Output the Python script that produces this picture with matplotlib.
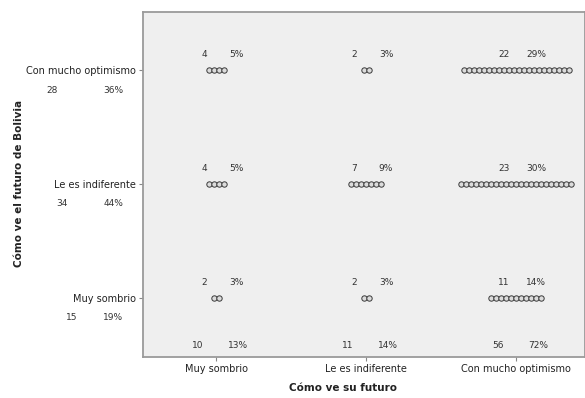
import numpy as np
import matplotlib.pyplot as plt

# categories (both axes share the same answer set)
categories = ["Muy sombrio", "Le es indiferente", "Con mucho optimismo"]

# counts[row][col]: row = future of Bolivia, col = own future
counts = [
    [2, 2, 11],   # Muy sombrio
    [4, 7, 23],   # Le es indiferente
    [4, 2, 22],   # Con mucho optimismo
]
cell_pct = [
    ["3%", "3%", "14%"],
    ["5%", "9%", "30%"],
    ["5%", "3%", "29%"],
]
row_totals = [15, 34, 28]
row_pct = ["19%", "44%", "36%"]
col_totals = [10, 11, 56]
col_pct = ["13%", "14%", "72%"]

DPI = 100
W, H = 585, 398
fig = plt.figure(figsize=(W / DPI, H / DPI), dpi=DPI)
ax = fig.add_axes([143 / W, 1 - 357 / H, 442 / W, 345 / H])
ax.set_facecolor("#efefef")
ax.set_xlim(-0.487, 2.46)
ax.set_ylim(-0.52, 2.51)

txt = dict(fontsize=6.5, color="#333333")

step = 5 / 150  # one dot every 5 px
for r, row in enumerate(counts):
    for c, n in enumerate(row):
        xs = c + (np.arange(n) - (n - 1) / 2) * step
        ax.scatter(xs, np.full(n, r), s=15, facecolor="#dcdcdc",
                   edgecolor="#3a3a3a", linewidths=0.7, zorder=3)
        ax.annotate(str(n), (c, r), xytext=(-12, 11), textcoords="offset pixels",
                    ha="center", va="bottom", **txt)
        ax.annotate(cell_pct[r][c], (c, r), xytext=(20, 11), textcoords="offset pixels",
                    ha="center", va="bottom", **txt)

for c in range(3):
    ax.annotate(str(col_totals[c]), (c, -0.52), xytext=(-18, 12), textcoords="offset pixels",
                ha="center", va="center", **txt)
    ax.annotate(col_pct[c], (c, -0.52), xytext=(22, 12), textcoords="offset pixels",
                ha="center", va="center", **txt)

# row totals sit under each y tick label, outside the plot area
count_x = [72, 62, 52]
for r in range(3):
    ax.annotate(str(row_totals[r]), (-0.487, r), xytext=(count_x[r] - 143, -20),
                textcoords="offset pixels", ha="center", va="center",
                annotation_clip=False, **txt)
    ax.annotate(row_pct[r], (-0.487, r), xytext=(113 - 143, -20),
                textcoords="offset pixels", ha="center", va="center",
                annotation_clip=False, **txt)

ax.set_xticks(range(3))
ax.set_xticklabels(categories, fontsize=7, color="#222222")
ax.set_yticks(range(3))
ax.set_yticklabels(categories, fontsize=7, color="#222222")
ax.tick_params(length=3, width=0.8, color="#888888", pad=2)

for s in ax.spines.values():
    s.set_color("#9a9a9a")
    s.set_linewidth(1.3)

fig.text(343 / W, 1 - 388 / H, "Cómo ve su futuro", ha="center", va="center",
         fontsize=7.5, fontweight="bold", color="#222222")
fig.text(19 / W, 1 - 183 / H, "Cómo ve el futuro de Bolivia", ha="center", va="center",
         rotation=90, fontsize=7.5, fontweight="bold", color="#222222")

fig.savefig("out.png", dpi=DPI)
